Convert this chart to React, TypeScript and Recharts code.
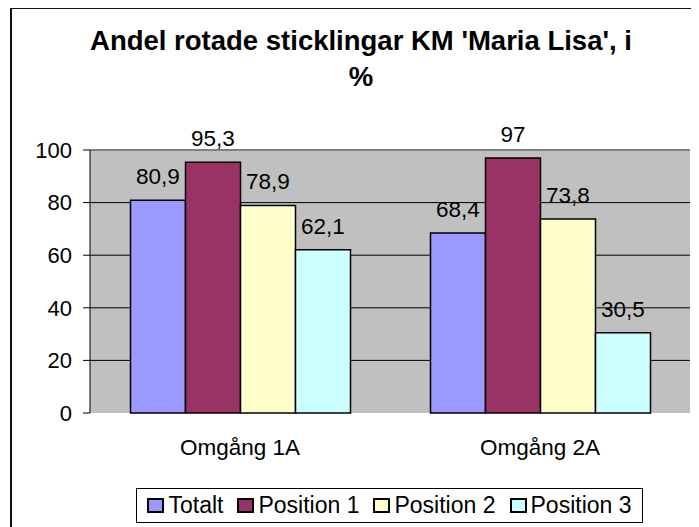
import { BarChart, Bar, XAxis, YAxis, CartesianGrid, ReferenceLine, LabelList } from 'recharts';

const categories = ['Omgång 1A', 'Omgång 2A'];
const totalt = [80.9, 68.4];
const position1 = [95.3, 97];
const position2 = [78.9, 73.8];
const position3 = [62.1, 30.5];
const yTicks = [0, 20, 40, 60, 80, 100];
const gridValues = [20, 40, 60, 80];
const title = "Andel rotade sticklingar KM 'Maria Lisa', i %";

const series = [
  { key: 'totalt', name: 'Totalt', color: '#9999FF', values: totalt },
  { key: 'position1', name: 'Position 1', color: '#993366', values: position1 },
  { key: 'position2', name: 'Position 2', color: '#FFFFCC', values: position2 },
  { key: 'position3', name: 'Position 3', color: '#CCFFFF', values: position3 },
];

const data = categories.map((name, i) => {
  const row: any = { name };
  series.forEach(s => { row[s.key] = s.values[i]; });
  return row;
});

// category boundaries for the little tick marks under the x axis
const boundTicks = [...categories.map((_, i) => i), categories.length];

const font = '"Liberation Sans", Arial, sans-serif';
const fmt = (v: any) => String(v).replace('.', ',');

export default function App() {
  return (
    <div style={{ position: 'relative', width: 691, height: 519, fontFamily: font }}>
      {/* chart frame: top and left edges, the rest runs off the page */}
      <div style={{ position: 'absolute', left: 2, top: -1, width: 689, height: 2, background: '#111', zIndex: 5 }} />
      <div style={{ position: 'absolute', left: 2, top: -1, width: 2, height: 520, background: '#111', zIndex: 5 }} />

      <div style={{
        position: 'absolute',
        left: 73,
        top: 14.5,
        width: 560,
        textAlign: 'center',
        fontSize: 27.5,
        fontWeight: 'bold',
        lineHeight: '36px',
        color: '#000',
      }}>
        {title}
      </div>

      <div style={{ position: 'absolute', left: 4, top: 0 }}>
        <BarChart
          width={687}
          height={460}
          data={data}
          margin={{ top: 142, right: 9, left: 0, bottom: 5 }}
          barCategoryGap="13.5%"
          barGap={0}
        >
          <CartesianGrid
            vertical={false}
            stroke="#000"
            fill="#C0C0C0"
            fillOpacity={1}
            horizontalValues={gridValues}
          />
          <XAxis
            xAxisId="bounds"
            type="number"
            domain={[0, categories.length]}
            ticks={boundTicks}
            height={0}
            tick={false}
            tickSize={6}
            tickLine={{ stroke: '#000' }}
            axisLine={{ stroke: '#808080', strokeWidth: 2 }}
            allowDataOverflow
          />
          <XAxis
            dataKey="name"
            height={50}
            tickSize={0}
            tickLine={false}
            axisLine={false}
            tickMargin={26}
            interval={0}
            tick={{ fill: '#000', fontSize: 22.5, fontFamily: font }}
          />
          <YAxis
            domain={[0, 100]}
            ticks={yTicks}
            interval={0}
            width={78}
            tickSize={7}
            tickMargin={11}
            axisLine={{ stroke: '#000' }}
            tickLine={{ stroke: '#000' }}
            tick={{ fill: '#000', fontSize: 22, fontFamily: font }}
          />
          <ReferenceLine y={100} stroke="#808080" strokeWidth={2} />
          <ReferenceLine xAxisId="bounds" x={categories.length} stroke="#808080" strokeWidth={2} />
          {series.map(s => (
            <Bar
              key={s.key}
              dataKey={s.key}
              name={s.name}
              fill={s.color}
              stroke="#000"
              strokeWidth={1.5}
              isAnimationActive={false}
            >
              <LabelList
                dataKey={s.key}
                position="top"
                offset={16}
                formatter={fmt}
                fill="#000"
                fontSize={22.5}
                fontFamily={font}
              />
            </Bar>
          ))}
        </BarChart>
      </div>

      <div style={{
        position: 'absolute',
        left: 128,
        top: 480,
        width: 507,
        height: 35,
        boxSizing: 'border-box',
        border: '1px solid #000',
        display: 'flex',
        alignItems: 'center',
        justifyContent: 'center',
        fontSize: 23,
        color: '#000',
      }}>
        {series.map((s, i) => (
          <div key={s.key} style={{ display: 'flex', alignItems: 'center', marginLeft: i === 0 ? 0 : 14 }}>
            <span style={{
              display: 'inline-block',
              width: 17,
              height: 15,
              boxSizing: 'border-box',
              border: '2px solid #000',
              background: s.color,
              marginRight: 4,
            }} />
            <span>{s.name}</span>
          </div>
        ))}
      </div>
    </div>
  );
}
